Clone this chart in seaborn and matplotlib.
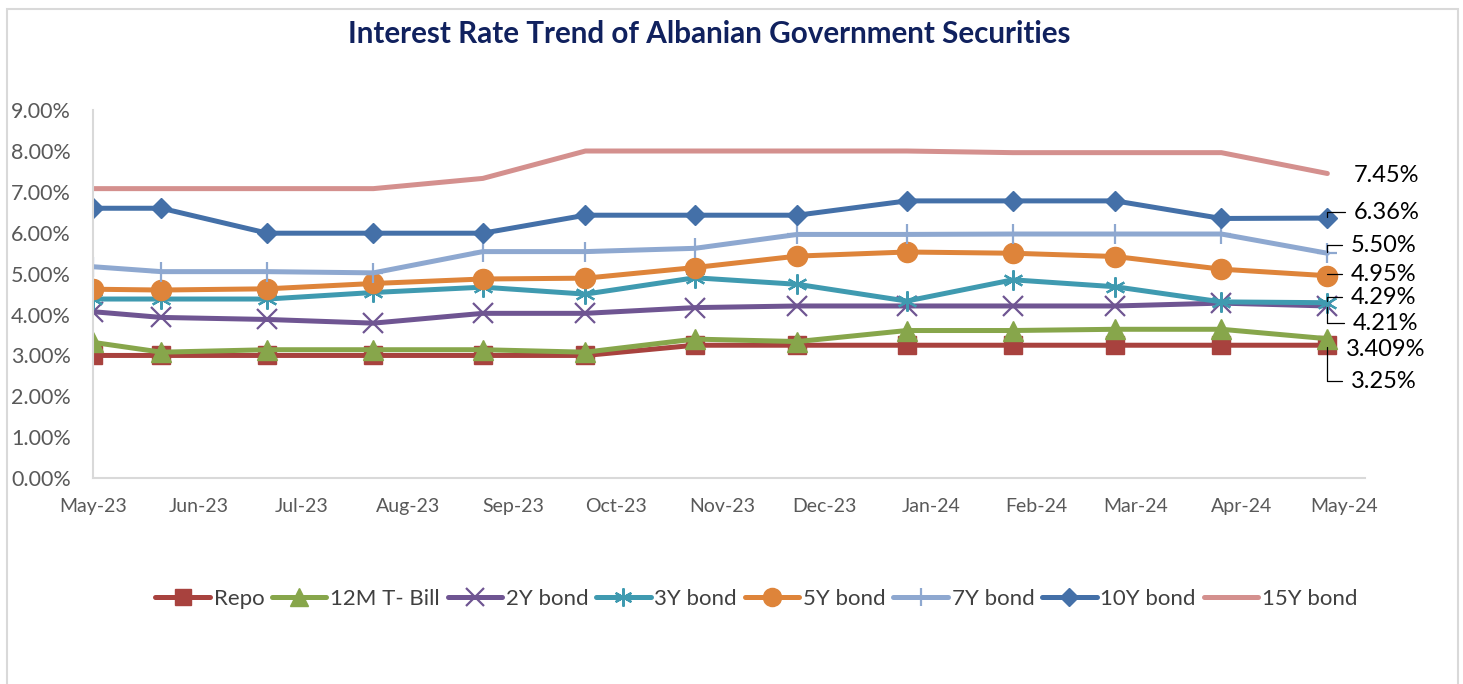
import matplotlib
matplotlib.use("Agg")
import matplotlib.pyplot as plt
import matplotlib.dates as mdates
from matplotlib.ticker import PercentFormatter, MultipleLocator
from matplotlib.lines import Line2D
from matplotlib.patches import Rectangle
import seaborn as sns
import pandas as pd

sns.set_style("white")
plt.rcParams["font.family"] = ["Lato", "DejaVu Sans"]

# auction dates
dates = ["2023-05-01", "2023-05-21", "2023-06-21", "2023-07-22", "2023-08-23",
         "2023-09-22", "2023-10-24", "2023-11-23", "2023-12-25", "2024-01-25",
         "2024-02-24", "2024-03-26", "2024-04-26"]

repo = [3.00, 3.00, 3.00, 3.00, 3.00, 3.00, 3.25, 3.25, 3.25, 3.25, 3.25, 3.25, 3.25]
tbill_12m = [3.32, 3.08, 3.14, 3.14, 3.14, 3.08, 3.40, 3.34, 3.61, 3.61, 3.64, 3.64, 3.409]
bond_2y = [4.07, 3.93, 3.88, 3.79, 4.03, 4.03, 4.17, 4.21, 4.21, 4.21, 4.21, 4.28, 4.21]
bond_3y = [4.38, 4.38, 4.38, 4.54, 4.67, 4.50, 4.90, 4.74, 4.33, 4.85, 4.68, 4.31, 4.29]
bond_5y = [4.62, 4.60, 4.63, 4.76, 4.87, 4.89, 5.15, 5.43, 5.53, 5.50, 5.42, 5.11, 4.95]
bond_7y = [5.17, 5.05, 5.05, 5.02, 5.54, 5.54, 5.62, 5.96, 5.96, 5.97, 5.97, 5.97, 5.50]
bond_10y = [6.60, 6.60, 5.99, 5.99, 5.99, 6.43, 6.43, 6.43, 6.78, 6.78, 6.78, 6.35, 6.36]
bond_15y = [7.08, 7.08, 7.08, 7.08, 7.33, 8.00, 8.00, 8.00, 8.00, 7.96, 7.96, 7.96, 7.45]

series_names = ["Repo", "12M T- Bill", "2Y bond", "3Y bond",
                "5Y bond", "7Y bond", "10Y bond", "15Y bond"]
series_values = [repo, tbill_12m, bond_2y, bond_3y, bond_5y, bond_7y, bond_10y, bond_15y]
end_labels = ["3.25%", "3.409%", "4.21%", "4.29%", "4.95%", "5.50%", "6.36%", "7.45%"]

# style per series: colour, marker, marker size, marker edge width
styles = {
    "Repo": ("#A8423E", "s", 13.5, 1),
    "12M T- Bill": ("#87A64B", "^", 14.5, 1),
    "2Y bond": ("#6F5592", "x", 14, 1.6),
    "3Y bond": ("#3F9AB0", (6, 2, 0), 14.5, 1.6),
    "5Y bond": ("#DE843A", "o", 14.5, 1),
    "7Y bond": ("#8EA8D0", "+", 15, 1.6),
    "10Y bond": ("#4470A8", "D", 10, 1),
    "15Y bond": ("#D4908E", None, 0, 0),
}
# label offsets (points) from the last point, and whether a leader line is drawn
label_offsets = {
    "Repo": (17, -26, True),
    "12M T- Bill": (13.5, -8, False),
    "2Y bond": (18.5, -12.5, True),
    "3Y bond": (17, 4, True),
    "5Y bond": (17, 1, True),
    "7Y bond": (17, 5.8, True),
    "10Y bond": (19, 4.1, True),
    "15Y bond": (19, -1.4, False),
}

rows = []
for name, vals in zip(series_names, series_values):
    for d, v in zip(dates, vals):
        rows.append({"date": pd.Timestamp(d), "rate": v, "series": name})
df = pd.DataFrame(rows)

fig = plt.figure(figsize=(14.63, 6.84), dpi=100)
ax = fig.add_axes([0.0636, 0.301, 0.8694, 0.538])

for name in series_names:
    color, marker, ms, mew = styles[name]
    sub = df[df["series"] == name]
    sns.lineplot(data=sub, x="date", y="rate", ax=ax, color=color,
                 linewidth=3.6, marker=marker, markersize=ms,
                 markeredgewidth=mew, markeredgecolor=color,
                 label=name, legend=False)

# end-of-series labels
for name, vals, txt in zip(series_names, series_values, end_labels):
    dx, dy, leader = label_offsets[name]
    kw = {}
    if leader:
        kw["arrowprops"] = dict(arrowstyle="-", color="black", lw=0.9,
                                connectionstyle="angle,angleA=0,angleB=90,rad=0",
                                shrinkA=4, shrinkB=1, relpos=(0, 0.5))
    ax.annotate(txt, xy=(pd.Timestamp(dates[-1]), vals[-1]), xytext=(dx, dy),
                textcoords="offset points", ha="left", va="center",
                fontsize=17, color="black", **kw)

ax.set_xlim(pd.Timestamp("2023-05-01"), pd.Timestamp("2024-05-07"))
ax.set_ylim(0, 9)
ax.yaxis.set_major_locator(MultipleLocator(1))
ax.yaxis.set_major_formatter(PercentFormatter(xmax=100, decimals=2))
ax.xaxis.set_major_locator(mdates.MonthLocator())
ax.xaxis.set_major_formatter(mdates.DateFormatter("%b-%y"))
ax.tick_params(axis="both", length=0, colors="#595959")
ax.tick_params(axis="y", pad=16, labelsize=15.5)
ax.tick_params(axis="x", pad=14, labelsize=14)
ax.set_xlabel("")
ax.set_ylabel("")
ax.grid(False)
for side in ["top", "right"]:
    ax.spines[side].set_visible(False)
for side in ["left", "bottom"]:
    ax.spines[side].set_color("#D9D9D9")
    ax.spines[side].set_linewidth(1.5)

fig.text(0.485, 0.95, "Interest Rate Trend of Albanian Government Securities",
         ha="center", va="center", fontsize=21.3, fontweight="bold", color="#10215E")

handles = []
for name in series_names:
    color, marker, ms, mew = styles[name]
    handles.append(Line2D([], [], color=color, lw=3.6, marker=marker,
                          markersize=ms * 0.9, markeredgewidth=mew,
                          markeredgecolor=color, solid_capstyle="round"))
leg = fig.legend(handles, series_names, loc="center", bbox_to_anchor=(0.517, 0.124),
                 ncol=8, frameon=False, fontsize=16, handlelength=2.45,
                 handletextpad=0.17, columnspacing=0.35, numpoints=1)
for t in leg.get_texts():
    t.set_color("#404040")

# chart area border
fig.patches.append(Rectangle((0.0048, -0.05), 0.9918, 1.037, transform=fig.transFigure,
                             fill=False, edgecolor="#D9D9D9", linewidth=1.5))

fig.savefig("out.png", dpi=100)
